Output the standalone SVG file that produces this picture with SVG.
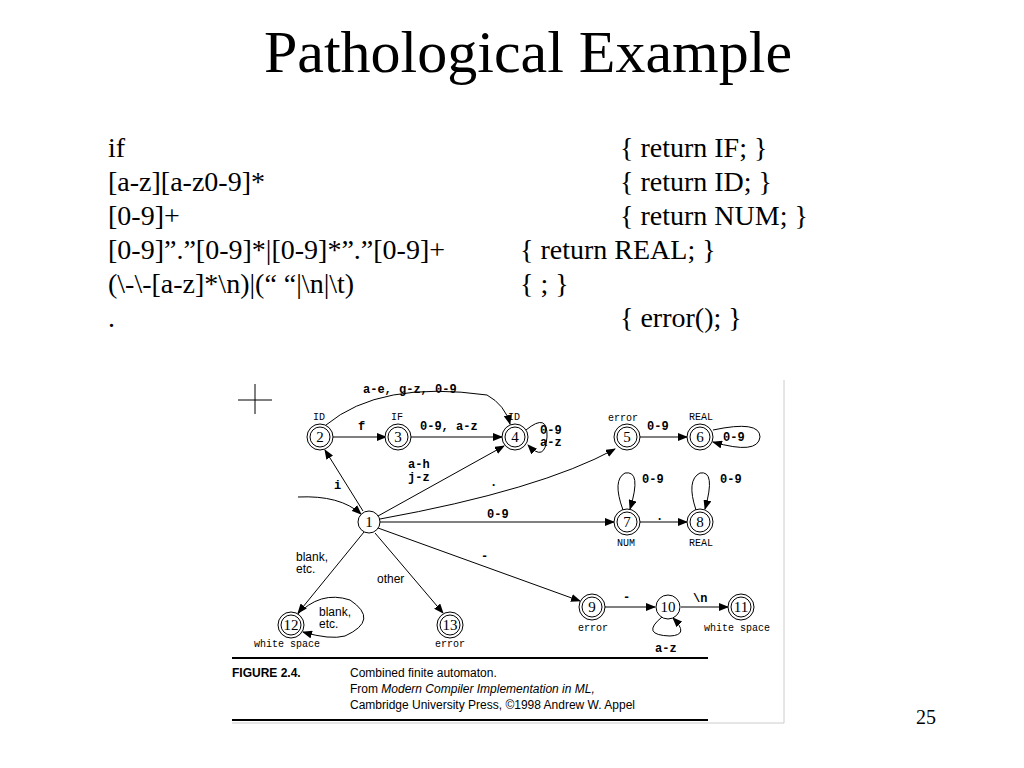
<svg xmlns="http://www.w3.org/2000/svg" width="1024" height="768" viewBox="0 0 1024 768">
<style>
.t{font-family:"Liberation Serif","Times New Roman",serif;font-size:28px;fill:#000}
.m{font-family:"Liberation Mono",monospace;font-size:12px;fill:#000;font-weight:bold}
.s{font-family:"Liberation Mono",monospace;font-size:10px;fill:#000}
.n{font-family:"Liberation Serif",serif;font-size:15px;fill:#000;text-anchor:middle}
.c{font-family:"Liberation Sans",sans-serif;font-size:12px;fill:#000}
.e{fill:none;stroke:#000;stroke-width:1}
circle{fill:#fff;stroke:#000;stroke-width:1}
</style>
<defs><marker id="a" markerWidth="10" markerHeight="8" refX="9" refY="4" orient="auto" markerUnits="userSpaceOnUse"><path d="M0,0L10,4L0,8z" fill="#000"/></marker></defs>
<rect width="1024" height="768" fill="#fff"/>
<text x="528" y="72" text-anchor="middle" font-family="Liberation Serif,serif" font-size="60">Pathological Example</text>
<text class="t" x="108" y="157">if</text>
<text class="t" x="108" y="191">[a-z][a-z0-9]*</text>
<text class="t" x="108" y="225">[0-9]+</text>
<text class="t" x="108" y="259">[0-9]”.”[0-9]*|[0-9]*”.”[0-9]+</text>
<text class="t" x="108" y="293">(\-\-[a-z]*\n)|(“  “|\n|\t)</text>
<text class="t" x="108" y="327">.</text>
<text class="t" x="620" y="157">{ return IF; }</text>
<text class="t" x="620" y="191">{ return ID; }</text>
<text class="t" x="620" y="225">{ return NUM; }</text>
<text class="t" x="520" y="259">{ return REAL; }</text>
<text class="t" x="520" y="293">{ ; }</text>
<text class="t" x="620" y="327">{ error(); }</text>
<text x="916" y="724" font-family="Liberation Serif,serif" font-size="20">25</text>
<g stroke="#ccc" fill="none"><path d="M784,380V723H232"/></g>
<path d="M238,400H272M255,384V414" stroke="#000" stroke-width="1"/>
<g id="connectors">
<path class="e" d="M298,497Q340,495 361,514" marker-end="url(#a)"/>
<path class="e" d="M363,511L325,450" marker-end="url(#a)"/>
<path class="e" d="M333,437H386" marker-end="url(#a)"/>
<path class="e" d="M411,437H502" marker-end="url(#a)"/>
<path class="e" d="M326,425Q380,380 487,395Q505,405 510,424" marker-end="url(#a)"/>
<path class="e" d="M526,430Q548,412 547,437Q545,463 528,445" marker-end="url(#a)"/>
<path class="e" d="M378,516L504,446" marker-end="url(#a)"/>
<path class="e" d="M380,519Q540,490 615,449" marker-end="url(#a)"/>
<path class="e" d="M640,437H687" marker-end="url(#a)"/>
<path class="e" d="M713,430Q760,420 760,437Q758,455 713,442" marker-end="url(#a)"/>
<path class="e" d="M380,522H614" marker-end="url(#a)"/>
<path class="e" d="M623,510Q612,480 625,473Q642,470 630,509" marker-end="url(#a)"/>
<path class="e" d="M640,522H687" marker-end="url(#a)"/>
<path class="e" d="M696,510Q686,480 700,473Q716,470 705,509" marker-end="url(#a)"/>
<path class="e" d="M378,528L580,601" marker-end="url(#a)"/>
<path class="e" d="M605,607H655" marker-end="url(#a)"/>
<path class="e" d="M681,607H728" marker-end="url(#a)"/>
<path class="e" d="M662,617Q640,635 670,636Q690,635 673,618" marker-end="url(#a)"/>
<path class="e" d="M364,532L298,613" marker-end="url(#a)"/>
<path class="e" d="M296,616Q320,590 350,600Q380,620 345,636Q330,640 303,632" marker-end="url(#a)"/>
<path class="e" d="M375,533L443,613" marker-end="url(#a)"/>
</g>
<g class="m">
<text x="363" y="393">a-e, g-z, 0-9</text>
<text x="358" y="430">f</text>
<text x="420" y="430">0-9, a-z</text>
<text x="540" y="434">0-9</text><text x="540" y="446">a-z</text>
<text x="647" y="430">0-9</text>
<text x="723" y="441">0-9</text>
<text x="408" y="468">a-h</text><text x="408" y="481">j-z</text>
<text x="334" y="489">i</text>
<text x="490" y="486">.</text>
<text x="487" y="518">0-9</text>
<text x="642" y="483">0-9</text>
<text x="720" y="483">0-9</text>
<text x="656" y="520">.</text>
<text x="481" y="560">-</text>
<text x="623" y="601">-</text>
<text x="693" y="602">\n</text>
<text x="655" y="652">a-z</text>
</g>
<g class="s">
<text x="313" y="420">ID</text><text x="391" y="420">IF</text><text x="508" y="420">ID</text>
<text x="608" y="421">error</text><text x="689" y="420">REAL</text>
<text x="617" y="546">NUM</text><text x="689" y="546">REAL</text>
<text x="578" y="631">error</text><text x="704" y="631">white space</text>
<text x="254" y="647">white space</text><text x="435" y="647">error</text>
</g>
<g class="c">
<text x="296" y="561">blank,</text><text x="296" y="573">etc.</text>
<text x="377" y="583">other</text>
<text x="319" y="616">blank,</text><text x="319" y="628">etc.</text>
</g>
<g id="n1"><circle cx="369" cy="522" r="11"/><text class="n" x="369" y="527">1</text></g>
<g id="n2"><circle cx="320" cy="437" r="13"/><circle cx="320" cy="437" r="10"/><text class="n" x="320" y="442">2</text></g>
<g id="n3"><circle cx="398" cy="437" r="13"/><circle cx="398" cy="437" r="10"/><text class="n" x="398" y="442">3</text></g>
<g id="n4"><circle cx="515" cy="437" r="13"/><circle cx="515" cy="437" r="10"/><text class="n" x="515" y="442">4</text></g>
<g id="n5"><circle cx="627" cy="437" r="13"/><circle cx="627" cy="437" r="10"/><text class="n" x="627" y="442">5</text></g>
<g id="n6"><circle cx="700" cy="437" r="13"/><circle cx="700" cy="437" r="10"/><text class="n" x="700" y="442">6</text></g>
<g id="n7"><circle cx="627" cy="522" r="13"/><circle cx="627" cy="522" r="10"/><text class="n" x="627" y="527">7</text></g>
<g id="n8"><circle cx="700" cy="522" r="13"/><circle cx="700" cy="522" r="10"/><text class="n" x="700" y="527">8</text></g>
<g id="n9"><circle cx="592" cy="607" r="13"/><circle cx="592" cy="607" r="10"/><text class="n" x="592" y="612">9</text></g>
<g id="n10"><circle cx="668" cy="607" r="12"/><text class="n" x="668" y="612">10</text></g>
<g id="n11"><circle cx="741" cy="607" r="13"/><circle cx="741" cy="607" r="10"/><text class="n" x="741" y="612">11</text></g>
<g id="n12"><circle cx="291" cy="625" r="13"/><circle cx="291" cy="625" r="10"/><text class="n" x="291" y="630">12</text></g>
<g id="n13"><circle cx="450" cy="625" r="13"/><circle cx="450" cy="625" r="10"/><text class="n" x="450" y="630">13</text></g>
<path d="M232,658H708M232,720H708" stroke="#000" stroke-width="2"/>
<text x="232" y="677" font-family="Liberation Sans,sans-serif" font-size="12" font-weight="bold">FIGURE 2.4.</text>
<text class="c" x="350" y="677">Combined finite automaton.</text>
<text class="c" x="350" y="693">From <tspan font-style="italic">Modern Compiler Implementation in ML,</tspan></text>
<text class="c" x="350" y="709">Cambridge University Press, ©1998 Andrew W. Appel</text>
</svg>
